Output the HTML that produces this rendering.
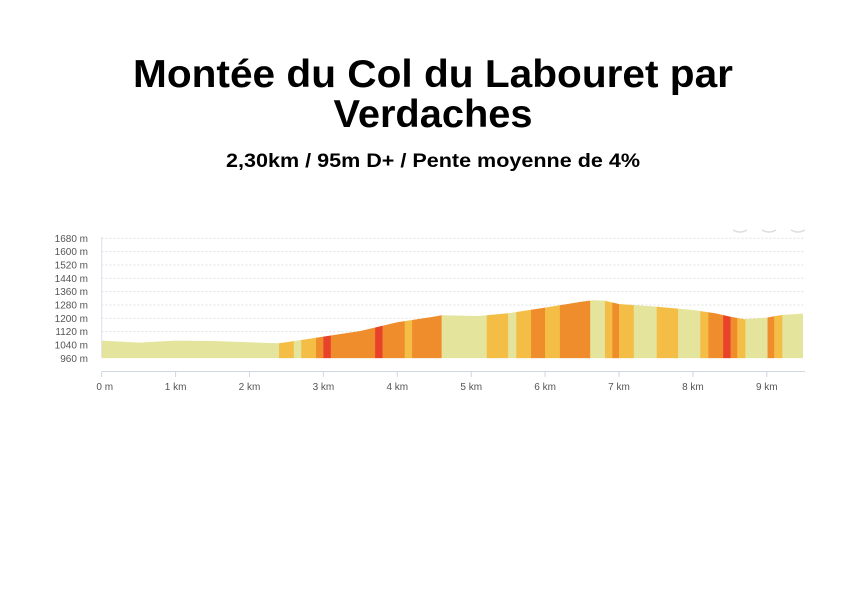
<!DOCTYPE html>
<html><head><meta charset="utf-8">
<style>
html,body{margin:0;padding:0;background:#fff;}
svg{display:block;font-family:"Liberation Sans",sans-serif;}
</style></head>
<body>
<svg id="chart" width="848" height="600" viewBox="0 0 848 600" xmlns="http://www.w3.org/2000/svg">
  <text x="433" y="87" text-anchor="middle" font-size="39" font-weight="bold" textLength="600" lengthAdjust="spacingAndGlyphs" fill="#000">Montée du Col du Labouret par</text>
  <text x="433" y="127" text-anchor="middle" font-size="39" font-weight="bold" textLength="199" lengthAdjust="spacingAndGlyphs" fill="#000">Verdaches</text>
  <text x="433" y="167" text-anchor="middle" font-size="19" font-weight="bold" textLength="414" lengthAdjust="spacingAndGlyphs" fill="#000">2,30km / 95m D+ / Pente moyenne de 4%</text>
  <g id="grid"></g>
  <g id="ylabels"></g>
  <defs><clipPath id="areaClip"><path id="clipPath1"/></clipPath></defs>
  <g id="segments" clip-path="url(#areaClip)"></g>
  <g id="xaxis"></g>
  <g fill="none" stroke="#ddd" stroke-width="1.5">
    <path d="M733 230 q7 4 14 0"/><path d="M762 230 q7 4 14 0"/><path d="M791 230 q7 4 14 0"/>
  </g>
</svg>
<script>
const distKm = [0,0.5,1,1.5,2,2.4,2.7,3,3.5,4,4.5,4.6,5.1,5.5,6,6.5,6.65,6.8,7,7.5,8,8.3,8.5,8.7,9,9.2,9.49];
const elevM  = [1066,1054,1066,1064,1056,1050,1070,1090,1124,1176,1210,1218,1214,1230,1264,1300,1308,1306,1286,1270,1250,1230,1210,1194,1204,1220,1228];
const segStart = [0,2.4,2.6,2.7,2.9,3.0,3.1,3.7,3.8,4.1,4.2,4.6,5.21,5.5,5.61,5.81,6.0,6.2,6.61,6.81,6.91,7.0,7.2,7.51,7.8,8.1,8.21,8.41,8.51,8.6,8.71,9.01,9.1,9.21];
const segEnd   = [2.4,2.6,2.7,2.9,3.0,3.1,3.7,3.8,4.1,4.2,4.6,5.21,5.5,5.61,5.81,6.0,6.2,6.61,6.81,6.91,7.0,7.2,7.51,7.8,8.1,8.21,8.41,8.51,8.6,8.71,9.01,9.1,9.21,9.49];
const segClass = ['p','y','p','y','o','r','o','r','o','y','o','p','y','p','y','o','y','o','p','y','o','y','p','y','p','y','o','r','o','y','p','o','y','p'];
const yTicks = [960,1040,1120,1200,1280,1360,1440,1520,1600,1680];
const xTicks = [0,1,2,3,4,5,6,7,8,9];
const xTickLabels = ['0 m','1 km','2 km','3 km','4 km','5 km','6 km','7 km','8 km','9 km'];

const NS='http://www.w3.org/2000/svg';
const X0=101.7, PXKM=73.9, Y0=358.3, PXM=120/720;
const xs=k=>X0+k*PXKM;
const ys=e=>Y0-(e-960)*PXM;
const colors={p:'#e4e49c',y:'#f4be46',o:'#ef8c2c',r:'#e8422a'};
function mk(tag,parent){const e=document.createElementNS(NS,tag);parent.appendChild(e);return e;}

const grid=document.getElementById('grid'), yl=document.getElementById('ylabels');
yTicks.forEach((t,i)=>{
  if(i>0){const l=mk('line',grid);
    
    
    l.setAttribute('x1',X0);l.setAttribute('x2',805);l.setAttribute('y1',ys(t));l.setAttribute('y2',ys(t));
    l.setAttribute('stroke','#d8d8d8');l.setAttribute('stroke-dasharray','1.5 2.5');}
  const tx=mk('text',yl);
  
  
  tx.setAttribute('x',88);tx.setAttribute('y',ys(t)+3.5);tx.setAttribute('text-anchor','end');
  tx.setAttribute('font-size','10');tx.setAttribute('fill','#555');tx.textContent=t+' m';
});
const ax=mk('line',grid);


ax.setAttribute('x1',X0);ax.setAttribute('x2',X0);ax.setAttribute('y1',237);ax.setAttribute('y2',Y0);ax.setAttribute('stroke','#dde');

let d='M'+xs(distKm[0])+' '+Y0;
distKm.forEach((k,i)=>{d+=' L'+xs(k).toFixed(1)+' '+ys(elevM[i]).toFixed(1);});
d+=' L'+xs(distKm[distKm.length-1])+' '+Y0+' Z';
document.getElementById('clipPath1').setAttribute('d',d);

const seg=document.getElementById('segments');
segStart.forEach((s,i)=>{
  const r=mk('rect',seg);
  
  
  r.setAttribute('x',xs(s));r.setAttribute('width',xs(segEnd[i])-xs(s)+0.3);
  r.setAttribute('y',230);r.setAttribute('height',Y0-230);
  r.setAttribute('fill',colors[segClass[i]]);
});

const xa=document.getElementById('xaxis');
const bl=mk('line',xa);


bl.setAttribute('x1',X0);bl.setAttribute('x2',805);bl.setAttribute('y1',371.5);bl.setAttribute('y2',371.5);bl.setAttribute('stroke','#cfd6e4');
xTicks.forEach((k,i)=>{
  const t=mk('line',xa);
  
  
  t.setAttribute('x1',xs(k));t.setAttribute('x2',xs(k));t.setAttribute('y1',371.5);t.setAttribute('y2',377);t.setAttribute('stroke','#cfd6e4');
  const tx=mk('text',xa);
  
  
  tx.setAttribute('x',xs(k)+(i===0?3:0));tx.setAttribute('y',390);tx.setAttribute('text-anchor','middle');
  tx.setAttribute('font-size','10');tx.setAttribute('fill','#555');tx.textContent=xTickLabels[i];
});
</script>
</body></html>
